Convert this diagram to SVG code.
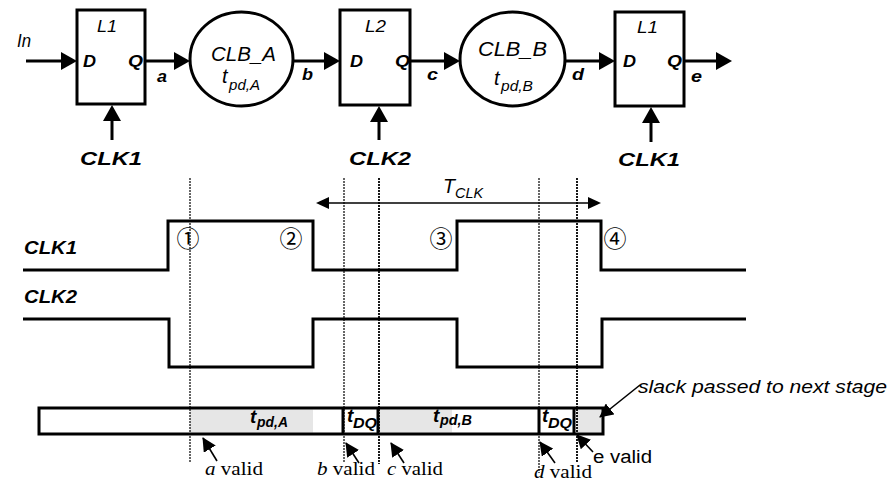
<svg xmlns="http://www.w3.org/2000/svg" width="892" height="483" viewBox="0 0 892 483">
<style>
text{font-family:"Liberation Sans",Arial,sans-serif;fill:#000}
.bi{font-weight:bold;font-style:italic}
.i{font-style:italic}
.sr{font-family:"Liberation Serif","Times New Roman",serif}
.cn{font-family:"Noto Sans CJK JP","DejaVu Sans",sans-serif;font-size:23px}
.box{fill:#fff;stroke:#000;stroke-width:3}
.w{fill:none;stroke:#000;stroke-width:3}
.c3{stroke:#000;stroke-width:3;fill:none}
.thin{stroke:#000;stroke-width:1.6;fill:none}
.dot{stroke:#000;stroke-width:1.2;stroke-dasharray:2 1;fill:none}
.dot2{stroke:#000;stroke-width:1.8;stroke-dasharray:2 1;fill:none}
.g{fill:#e6e6e6}
</style>
<defs>
<marker id="ah" viewBox="0 0 16 18" refX="1" refY="9" markerWidth="16" markerHeight="18" markerUnits="userSpaceOnUse" orient="auto"><path d="M0,0 L16,9 L0,18 z" fill="#000"/></marker>
<marker id="am" viewBox="0 0 13 12" refX="1" refY="6" markerWidth="13" markerHeight="12" markerUnits="userSpaceOnUse" orient="auto-start-reverse"><path d="M0,0 L13,6 L0,12 z" fill="#000"/></marker>
<marker id="as" viewBox="0 0 14 14" refX="13" refY="7" markerWidth="14" markerHeight="14" markerUnits="userSpaceOnUse" orient="auto"><path d="M0,0 L14,7 L0,14 z" fill="#000"/></marker>
</defs>

<g id="L1a">
<rect class="box" x="77" y="10" width="68" height="94"/>
<text class="i" x="97" y="32" font-size="17" textLength="20" lengthAdjust="spacingAndGlyphs">L1</text>
<text class="bi" x="83" y="67" font-size="17" textLength="13" lengthAdjust="spacingAndGlyphs">D</text>
<text class="bi" x="128" y="67" font-size="17" textLength="15" lengthAdjust="spacingAndGlyphs">Q</text>
</g>
<g id="CLB_A">
<ellipse class="box" cx="241.5" cy="59" rx="51.5" ry="47"/>
<text class="i" x="211" y="61" font-size="20" textLength="65" lengthAdjust="spacingAndGlyphs">CLB_A</text>
<text class="i" x="222" y="83" font-size="20">t</text>
<text class="i" x="229" y="90" font-size="14" textLength="31" lengthAdjust="spacingAndGlyphs">pd,A</text>
</g>
<g id="L2">
<rect class="box" x="340" y="10" width="70" height="95"/>
<text class="i" x="365" y="32" font-size="17" textLength="21" lengthAdjust="spacingAndGlyphs">L2</text>
<text class="bi" x="350" y="67" font-size="17" textLength="13" lengthAdjust="spacingAndGlyphs">D</text>
<text class="bi" x="395" y="67" font-size="17" textLength="15" lengthAdjust="spacingAndGlyphs">Q</text>
</g>
<g id="CLB_B">
<ellipse class="box" cx="512.5" cy="59" rx="52.5" ry="47"/>
<text class="i" x="478" y="56" font-size="20" textLength="69" lengthAdjust="spacingAndGlyphs">CLB_B</text>
<text class="i" x="494" y="85" font-size="20">t</text>
<text class="i" x="501" y="91" font-size="14" textLength="32" lengthAdjust="spacingAndGlyphs">pd,B</text>
</g>
<g id="L1b">
<rect class="box" x="615" y="12" width="69" height="94"/>
<text class="i" x="637" y="33" font-size="17" textLength="21" lengthAdjust="spacingAndGlyphs">L1</text>
<text class="bi" x="623" y="67" font-size="17" textLength="13" lengthAdjust="spacingAndGlyphs">D</text>
<text class="bi" x="667" y="67" font-size="17" textLength="15" lengthAdjust="spacingAndGlyphs">Q</text>
</g>

<g id="connectors">
<line class="c3" x1="26" y1="61" x2="62" y2="61" marker-end="url(#ah)"/>
<line class="c3" x1="145" y1="61" x2="175" y2="61" marker-end="url(#ah)"/>
<line class="c3" x1="293" y1="61" x2="325" y2="61" marker-end="url(#ah)"/>
<line class="c3" x1="410" y1="61" x2="445" y2="61" marker-end="url(#ah)"/>
<line class="c3" x1="565" y1="61" x2="600" y2="61" marker-end="url(#ah)"/>
<line class="c3" x1="684" y1="61" x2="717" y2="61" marker-end="url(#ah)"/>
<line class="c3" x1="112" y1="140" x2="112" y2="120" marker-end="url(#ah)"/>
<line class="c3" x1="379" y1="140" x2="379" y2="121" marker-end="url(#ah)"/>
<line class="c3" x1="651" y1="142" x2="651" y2="122" marker-end="url(#ah)"/>
</g>

<g id="signal-labels">
<text class="i" x="17" y="47" font-size="18" textLength="14" lengthAdjust="spacingAndGlyphs">In</text>
<text class="bi" x="157" y="82" font-size="17" textLength="10" lengthAdjust="spacingAndGlyphs">a</text>
<text class="bi" x="302" y="80" font-size="17" textLength="11" lengthAdjust="spacingAndGlyphs">b</text>
<text class="bi" x="427" y="80" font-size="17" textLength="11" lengthAdjust="spacingAndGlyphs">c</text>
<text class="bi" x="572" y="80" font-size="17" textLength="12" lengthAdjust="spacingAndGlyphs">d</text>
<text class="bi" x="691" y="82" font-size="17" textLength="11" lengthAdjust="spacingAndGlyphs">e</text>
<text class="bi" x="111" y="165" font-size="19" text-anchor="middle" textLength="62" lengthAdjust="spacingAndGlyphs">CLK1</text>
<text class="bi" x="380" y="165" font-size="19" text-anchor="middle" textLength="62" lengthAdjust="spacingAndGlyphs">CLK2</text>
<text class="bi" x="649" y="166" font-size="19" text-anchor="middle" textLength="62" lengthAdjust="spacingAndGlyphs">CLK1</text>
</g>

<g id="timing">
<line class="thin" x1="328" y1="203" x2="589" y2="203" marker-start="url(#am)" marker-end="url(#am)"/>
<text class="i" x="443" y="193" font-size="20" textLength="12" lengthAdjust="spacingAndGlyphs">T</text>
<text class="i" x="455" y="198" font-size="14" textLength="28" lengthAdjust="spacingAndGlyphs">CLK</text>

<text class="bi" x="24" y="254" font-size="18" textLength="53" lengthAdjust="spacingAndGlyphs">CLK1</text>
<text class="bi" x="24" y="303" font-size="18" textLength="53" lengthAdjust="spacingAndGlyphs">CLK2</text>
<polyline class="w" points="23,270 168,270 168,221 313,221 313,270 457,270 457,221 601,221 601,270 746,270"/>
<polyline class="w" points="23,319 169,319 169,367 313,367 313,319 457,319 457,367 602,367 602,319 746,319"/>

<text class="cn" x="188" y="246.5" text-anchor="middle">①</text>
<text class="cn" x="291" y="246.5" text-anchor="middle">②</text>
<text class="cn" x="441" y="247" text-anchor="middle">③</text>
<text class="cn" x="615" y="246.5" text-anchor="middle">④</text>

<rect x="39" y="408" width="564" height="26" fill="#fff"/>
<rect class="g" x="190" y="409.5" width="123" height="23"/>
<rect class="g" x="380" y="409.5" width="72" height="23"/>
<rect class="g" x="577" y="409.5" width="26" height="23"/>
<rect x="39" y="408" width="564" height="26" fill="none" stroke="#000" stroke-width="3"/>
<line class="c3" x1="343" y1="408" x2="343" y2="434"/>
<line class="c3" x1="378" y1="408" x2="378" y2="434"/>
<line class="c3" x1="539" y1="408" x2="539" y2="434"/>
<line class="c3" x1="574" y1="408" x2="574" y2="434"/>

<text class="bi" x="250" y="423" font-size="19">t</text>
<text class="bi" x="257" y="427" font-size="14" textLength="31" lengthAdjust="spacingAndGlyphs">pd,A</text>
<text class="bi" x="347" y="422" font-size="19">t</text>
<text class="bi" x="353" y="428" font-size="14" textLength="24" lengthAdjust="spacingAndGlyphs">DQ</text>
<text class="bi" x="433" y="422" font-size="19">t</text>
<text class="bi" x="440" y="425" font-size="14" textLength="32" lengthAdjust="spacingAndGlyphs">pd,B</text>
<text class="bi" x="542" y="422" font-size="19">t</text>
<text class="bi" x="548" y="428" font-size="14" textLength="24" lengthAdjust="spacingAndGlyphs">DQ</text>

<line class="dot" x1="190" y1="178" x2="190" y2="463"/>
<line class="dot" x1="344" y1="178" x2="344" y2="462"/>
<line class="dot2" x1="379" y1="178" x2="379" y2="464"/>
<line class="dot" x1="539" y1="178" x2="539" y2="473"/>
<line class="dot2" x1="577" y1="178" x2="577" y2="463"/>

<line class="thin" x1="217" y1="461" x2="203" y2="438" marker-end="url(#as)"/>
<line class="thin" x1="359" y1="463" x2="346" y2="443" marker-end="url(#as)"/>
<line class="thin" x1="404" y1="463" x2="391" y2="443" marker-end="url(#as)"/>
<line class="thin" x1="555" y1="463" x2="540" y2="442" marker-end="url(#as)"/>
<line class="thin" x1="593" y1="452" x2="577" y2="435" marker-end="url(#as)"/>
<line class="thin" x1="640" y1="385" x2="600" y2="417" marker-end="url(#as)"/>

<text class="sr" x="205" y="475" font-size="19" textLength="58" lengthAdjust="spacingAndGlyphs"><tspan font-style="italic">a</tspan> valid</text>
<text class="sr" x="317" y="475" font-size="19" textLength="58" lengthAdjust="spacingAndGlyphs"><tspan font-style="italic">b</tspan> valid</text>
<text class="sr" x="387" y="475" font-size="19" textLength="56" lengthAdjust="spacingAndGlyphs"><tspan font-style="italic">c</tspan> valid</text>
<text class="sr" x="534" y="478" font-size="19" textLength="58" lengthAdjust="spacingAndGlyphs"><tspan font-style="italic">d</tspan> valid</text>
<text x="593" y="463" font-size="18" textLength="59" lengthAdjust="spacingAndGlyphs">e valid</text>
<text class="i" x="638" y="393" font-size="18" textLength="249" lengthAdjust="spacingAndGlyphs">slack passed to next stage</text>
</g>
</svg>
